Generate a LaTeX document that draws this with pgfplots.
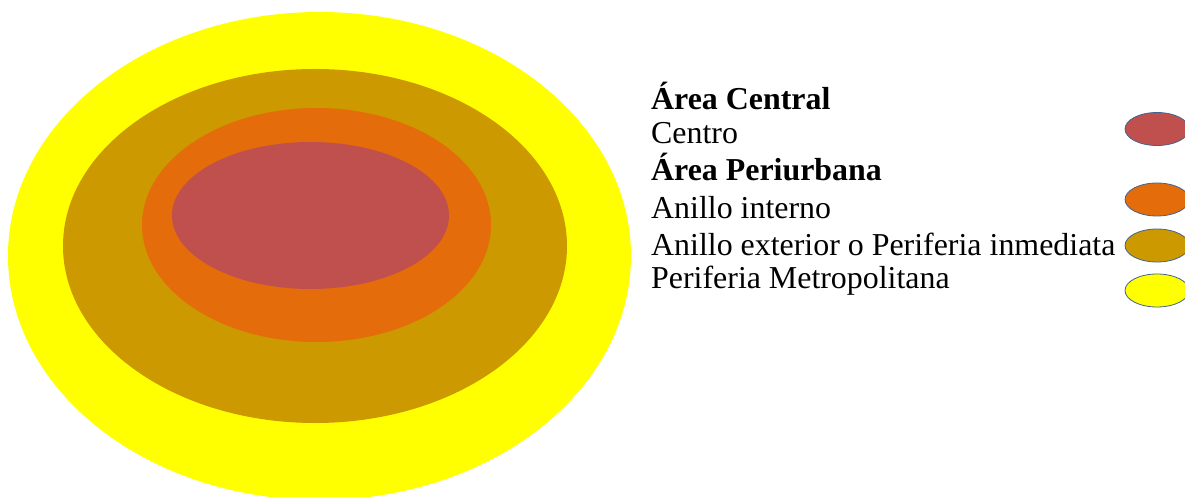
\documentclass[border=0pt]{standalone}
\usepackage{fontspec}
\setmainfont{Liberation Serif}
\usepackage{pgfplots}
\pgfplotsset{compat=1.18}
\definecolor{cRed}{HTML}{C0504D}
\definecolor{cOrange}{HTML}{E46C0A}
\definecolor{cGold}{HTML}{CC9900}
\definecolor{cYellow}{HTML}{FFFF00}
\definecolor{cLine}{HTML}{41648F}
\begin{document}
\begin{tikzpicture}
\begin{axis}[
  width=1185pt, height=496pt, scale only axis,
  xmin=0, xmax=1185, ymin=0, ymax=496,
  hide axis, clip=true,
]
% concentric zones (center x, center y, x radius, y radius)
\fill[cYellow] (axis cs:319.5,240) ellipse [x radius=311.5, y radius=244];
\fill[cGold]   (axis cs:315,250) ellipse [x radius=252, y radius=177];
\fill[cOrange] (axis cs:316.5,271) ellipse [x radius=174.5, y radius=117];
\fill[cRed]    (axis cs:310.5,280.5) ellipse [x radius=138.5, y radius=73.5];
% legend symbols
\filldraw[fill=cRed, draw=cLine, line width=0.8pt]    (axis cs:1157,367) ellipse [x radius=32, y radius=16.5];
\filldraw[fill=cOrange, draw=cLine, line width=0.8pt] (axis cs:1157,296.5) ellipse [x radius=32, y radius=16.5];
\filldraw[fill=cGold, draw=cLine, line width=0.8pt]   (axis cs:1157,250.5) ellipse [x radius=32, y radius=16.5];
\filldraw[fill=cYellow, draw=cLine, line width=0.8pt] (axis cs:1157,205.5) ellipse [x radius=32, y radius=16.5];
% legend texts
\begin{scope}[every node/.style={anchor=base west, inner sep=0pt, font=\fontsize{31.9}{36}\selectfont}]
\node at (axis cs:651,386.5) {\textbf{Área Central}};
\node at (axis cs:651,352.5) {Centro};
\node at (axis cs:651,315.5) {\textbf{Área Periurbana}};
\node at (axis cs:651,277.5) {Anillo interno};
\node at (axis cs:651,240.5) {Anillo exterior o Periferia inmediata};
\node at (axis cs:651,207.5) {Periferia Metropolitana};
\end{scope}
\end{axis}
\pgfresetboundingbox
\useasboundingbox (current axis.south west) rectangle (current axis.north east);
\end{tikzpicture}
\end{document}
